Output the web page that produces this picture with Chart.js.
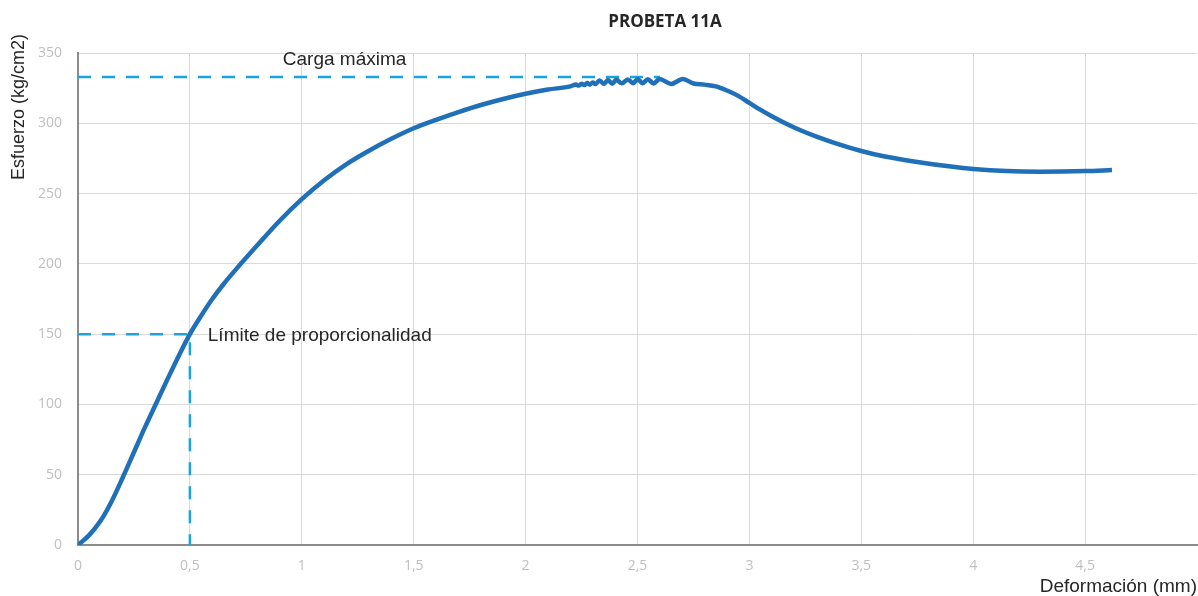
<!DOCTYPE html>
<html>
<head>
<meta charset="utf-8">
<script src="https://cdn.jsdelivr.net/npm/chart.js@4/dist/chart.umd.min.js"></script>
<style>
  body { margin: 0; background: #fff; }
  #wrap { width: 1198px; height: 596px; }
</style>
</head>
<body>
<div id="wrap"><canvas id="probeta" width="1198" height="596"></canvas></div>
<script>
// curva esfuerzo - deformacion
var deformacion = [0, 0.05, 0.1, 0.15, 0.2, 0.25, 0.3, 0.35, 0.4, 0.45, 0.5, 0.55, 0.6, 0.65, 0.7, 0.8, 0.9, 1.0, 1.1, 1.2, 1.3, 1.4, 1.5, 1.6, 1.7, 1.8, 1.9, 2.0, 2.1, 2.2,
  2.225, 2.237, 2.25, 2.262, 2.275, 2.287, 2.3, 2.312,
  2.33, 2.35, 2.368, 2.387, 2.405, 2.43, 2.457, 2.48, 2.501, 2.523, 2.546, 2.572, 2.598,
  2.65, 2.703, 2.75, 2.8, 2.85, 2.9, 2.95, 3.0, 3.05, 3.1, 3.2, 3.3, 3.4, 3.5, 3.6, 3.75, 3.9, 4.0, 4.15, 4.3, 4.5, 4.62];
var esfuerzo = [0, 7, 17, 31, 48, 66, 84, 101, 118, 134.5, 150, 163, 175, 185.5, 195, 213, 230.5, 246, 259.5, 271, 280.5, 289, 296.5, 302.5, 308, 313, 317.3, 321, 324, 326.3,
  327.6, 326.8, 328.1, 327.2, 328.6, 327.5, 329.0, 327.9,
  330.5, 328.0, 330.8, 328.2, 331.0, 328.4, 331.2, 328.5, 331.3, 328.5, 331.3, 328.3, 331.5,
  328, 331.5, 328.3, 327.5, 326.3, 323.3, 319.5, 314.5, 309.5, 305, 297, 290.5, 285, 280.3, 276.5, 272.5, 269.2, 267.5, 266, 265.6, 266, 266.7];

// lineas de referencia
var cargaMaxX = [0, 2.6];
var cargaMaxY = [333, 333];
var limiteX = [0, 0.5, 0.5];
var limiteY = [150, 150, 0];

var xTicks = [0, 0.5, 1, 1.5, 2, 2.5, 3, 3.5, 4, 4.5];

function pares(xs, ys) {
  return xs.map(function (x, i) { return { x: x, y: ys[i] }; });
}

var textos = {
  id: 'textos',
  afterDraw: function (chart) {
    var ctx = chart.ctx;
    var a = chart.chartArea;
    var sx = chart.scales.x, sy = chart.scales.y;
    ctx.save();
    // titulo
    ctx.fillStyle = '#262626';
    ctx.font = 'bold 17px "Open Sans"';
    ctx.textAlign = 'center';
    ctx.textBaseline = 'middle';
    ctx.fillText('PROBETA 11A', 665, 22);
    // anotaciones
    ctx.font = '19px "Liberation Sans"';
    ctx.textAlign = 'left';
    ctx.fillText('Carga máxima', sx.getPixelForValue(0.915), sy.getPixelForValue(345));
    ctx.fillText('Límite de proporcionalidad', sx.getPixelForValue(0.58), sy.getPixelForValue(148.7));
    // titulos de ejes
    ctx.textAlign = 'right';
    ctx.fillText('Deformación (mm)', a.right, 587);
    ctx.font = '18px "Liberation Sans"';
    ctx.translate(19, 107);
    ctx.rotate(-Math.PI / 2);
    ctx.textAlign = 'center';
    ctx.fillText('Esfuerzo (kg/cm2)', 0, 0);
    ctx.restore();
  }
};

var chart = new Chart(document.getElementById('probeta'), {
  type: 'scatter',
  data: {
    datasets: [{
      data: pares(deformacion, esfuerzo),
      showLine: true,
      borderColor: '#1f6fb9',
      borderWidth: 4.5,
      pointRadius: 0,
      cubicInterpolationMode: 'monotone',
      order: 1
    }, {
      data: pares(cargaMaxX, cargaMaxY),
      showLine: true,
      borderColor: '#1aa3e0',
      borderWidth: 2.5,
      borderDash: [13, 11],
      pointRadius: 0,
      order: 2
    }, {
      data: pares(limiteX, limiteY),
      showLine: true,
      borderColor: '#1aa3e0',
      borderWidth: 2.5,
      borderDash: [13, 11],
      pointRadius: 0,
      order: 2
    }]
  },
  options: {
    responsive: false,
    animation: false,
    layout: { padding: { top: 53, right: 1, left: 0, bottom: 0 } },
    plugins: {
      legend: { display: false },
      tooltip: { enabled: false },
      title: { display: false }
    },
    scales: {
      x: {
        type: 'linear',
        min: 0,
        max: 5,
        afterBuildTicks: function (scale) {
          scale.ticks = xTicks.map(function (v) { return { value: v }; });
        },
        afterFit: function (scale) { scale.height = 51; },
        grid: { color: '#d9d9d9', lineWidth: 1, drawTicks: false },
        border: { color: '#8c8c8c', width: 2 },
        ticks: {
          padding: 13,
          color: '#bfbfbf',
          font: { family: '"Open Sans"', size: 14 },
          maxRotation: 0,
          callback: function (v) { return String(v).replace('.', ','); }
        }
      },
      y: {
        min: 0,
        max: 350,
        afterFit: function (scale) { scale.width = 78; },
        grid: { color: '#d9d9d9', lineWidth: 1, drawTicks: false },
        border: { color: '#8c8c8c', width: 2 },
        ticks: {
          stepSize: 50,
          padding: 16,
          color: '#bfbfbf',
          font: { family: '"Open Sans"', size: 14 }
        }
      }
    }
  },
  plugins: [textos]
});
</script>
</body>
</html>
